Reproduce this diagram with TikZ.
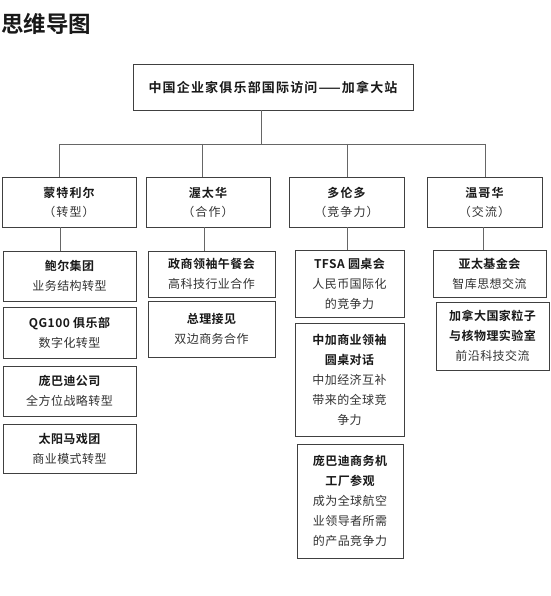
\documentclass[tikz,border=0pt]{standalone}
\usepackage{fontspec}
\newfontfamily\cjk{Noto Sans CJK SC}[LetterSpace=4]
\newfontfamily\cjkb{Noto Sans CJK SC Bold}[LetterSpace=4]
\newfontfamily\cjkw{Noto Sans CJK SC}[LetterSpace=9]
\newfontfamily\cjkbw{Noto Sans CJK SC Bold}[LetterSpace=9]
\newfontfamily\cjkh{Noto Sans CJK SC Bold}
\newcommand{\tb}{\cjkb\color{black!90}}
\newcommand{\td}{\cjk\color{black!80}}
\newcommand{\tbw}{\cjkbw\color{black!90}}
\newcommand{\tdw}{\cjkw\color{black!80}}
\tikzset{
  box/.style={draw=black!75, line width=0.9pt, inner sep=0pt, align=center,
    font=\fontsize{12}{20}\selectfont},
  citybox/.style={box, minimum height=50pt, font=\fontsize{12}{19}\selectfont},
  link/.style={draw=black!60, line width=0.9pt}
}
\begin{document}
\begin{tikzpicture}[x=1pt,y=-1pt]
\useasboundingbox[fill=white] (0,0) rectangle (550,596);
\node[anchor=west, font=\cjkh\fontsize{22.5}{24}\selectfont, text=black!90, inner sep=0pt] (title) at (1,24) {思维导图};

\node[box, minimum width=280pt, minimum height=46pt, font=\fontsize{13}{16}\selectfont] (top) at (273,87) {\tbw 中国企业家俱乐部国际访问——加拿大站};

\node[citybox, minimum width=134pt] (c1) at (69,202) {\tbw 蒙特利尔\\ \tdw （转型）};
\node[citybox, minimum width=124pt] (c2) at (208,202) {\tbw 渥太华\\ \tdw （合作）};
\node[citybox, minimum width=115pt] (c3) at (346.5,202) {\tbw 多伦多\\ \tdw （竞争力）};
\node[citybox, minimum width=115pt] (c4) at (484.5,202) {\tbw 温哥华\\ \tdw （交流）};

\node[box, minimum width=133pt, minimum height=50pt] (a1) at (69.5,276) {\tb 鲍尔集团\\ \td 业务结构转型};
\node[box, minimum width=133pt, minimum height=51pt] (a2) at (69.5,332.5) {\tb QG100 俱乐部\\ \td 数字化转型};
\node[box, minimum width=133pt, minimum height=50pt] (a3) at (69.5,391) {\tb 庞巴迪公司\\ \td 全方位战略转型};
\node[box, minimum width=133pt, minimum height=49pt] (a4) at (69.5,448.5) {\tb 太阳马戏团\\ \td 商业模式转型};

\node[box, minimum width=127pt, minimum height=46pt] (b1) at (211.5,274) {\tb 政商领袖午餐会\\ \td 高科技行业合作};
\node[box, minimum width=127pt, minimum height=56pt] (b2) at (211.5,329) {\tb 总理接见\\ \td 双边商务合作};

\node[box, minimum width=109pt, minimum height=67pt] (d1) at (349.5,283.5) {\tb TFSA 圆桌会\\ \td 人民币国际化\\ \td 的竞争力};
\node[box, minimum width=109pt, minimum height=113pt] (d2) at (349.5,379.5) {\tb 中加商业领袖\\ \tb 圆桌对话\\ \td 中加经济互补\\ \td 带来的全球竞\\ \td 争力};
\node[box, minimum width=106pt, minimum height=114pt] (d3) at (350,501) {\tb 庞巴迪商务机\\ \tb 工厂参观\\ \td 成为全球航空\\ \td 业领导者所需\\ \td 的产品竞争力};

\node[box, minimum width=113pt, minimum height=47pt] (e1) at (489.5,273.5) {\tb 亚太基金会\\ \td 智库思想交流};
\node[box, minimum width=113pt, minimum height=68pt] (e2) at (492.5,336) {\tb 加拿大国家粒子\\ \tb 与核物理实验室\\ \td 前沿科技交流};

% connectors
\coordinate (j) at (261,144);
\coordinate (h1) at (59,144);
\coordinate (h2) at (202,144);
\coordinate (h3) at (347,144);
\coordinate (h4) at (485,144);
\coordinate (v1) at (60,0);
\coordinate (v2) at (204,0);
\coordinate (v3) at (347,0);
\coordinate (v4) at (483,0);
\draw[link] (j |- top.south) -- (j);
\draw[link] (h1) -- (h4);
\draw[link] (h1) -- (h1 |- c1.north);
\draw[link] (h2) -- (h2 |- c2.north);
\draw[link] (h3) -- (h3 |- c3.north);
\draw[link] (h4) -- (h4 |- c4.north);
\draw[link] (v1 |- c1.south) -- (v1 |- a1.north);
\draw[link] (v2 |- c2.south) -- (v2 |- b1.north);
\draw[link] (v3 |- c3.south) -- (v3 |- d1.north);
\draw[link] (v4 |- c4.south) -- (v4 |- e1.north);
\end{tikzpicture}
\end{document}
